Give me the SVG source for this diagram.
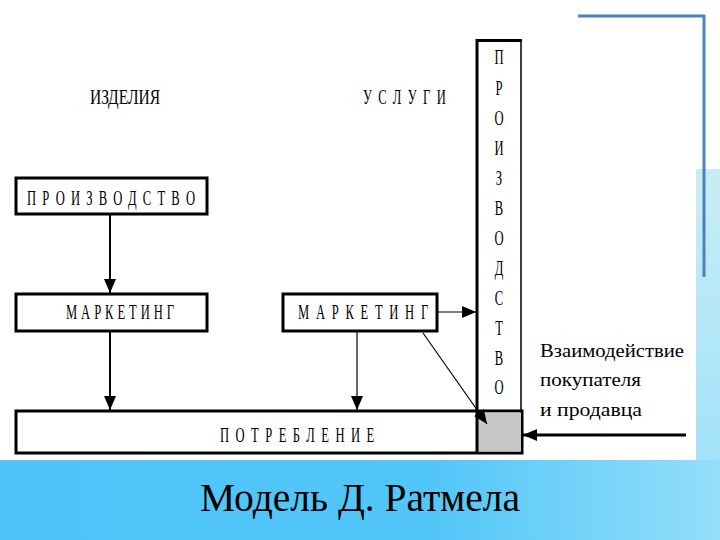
<svg xmlns="http://www.w3.org/2000/svg" width="720" height="540" viewBox="0 0 720 540">
<defs>
<linearGradient id="band" x1="0" y1="0" x2="1" y2="0">
<stop offset="0" stop-color="#4fc4f8"/>
<stop offset="0.6" stop-color="#52c6f8"/>
<stop offset="1" stop-color="#94def9"/>
</linearGradient>
<linearGradient id="strip" x1="0" y1="0" x2="0" y2="1">
<stop offset="0" stop-color="#c9edf5"/>
<stop offset="1" stop-color="#a2e2fa"/>
</linearGradient>
<marker id="ahb" viewBox="0 0 14 12" refX="14" refY="6" markerWidth="14" markerHeight="12" markerUnits="userSpaceOnUse" orient="auto">
<path d="M0,0 L14,6 L0,12 Z" fill="#000"/>
</marker>
</defs>
<style>
.box{fill:#fff;stroke:#000;stroke-width:3}
.t{font-family:"Liberation Serif","DejaVu Serif",serif;fill:#000}
.cap{font-size:21px}
.vl{font-size:21px;text-anchor:middle}
.side{font-size:18px}
.thick{stroke:#000;stroke-width:2;fill:none}
.thin{stroke:#000;stroke-width:1.2;fill:none}
</style>
<rect x="0" y="0" width="720" height="540" fill="#fff"/>
<rect x="696" y="169" width="24" height="292" fill="url(#strip)"/>
<rect x="0" y="460" width="720" height="80" fill="url(#band)"/>
<g id="frame-line">
<path d="M578,16 L704,16 L704,277" fill="none" stroke="#4f81bd" stroke-width="3"/>
</g>

<g id="izdelia"><text class="t" font-size="20" x="90" y="104" textLength="70" lengthAdjust="spacingAndGlyphs">ИЗДЕЛИЯ</text></g>
<g id="uslugi"><text class="t cap" transform="translate(363,104) scale(0.6,1)" textLength="138" lengthAdjust="spacing">УСЛУГИ</text></g>

<g id="proizvodstvo-h">
<rect class="box" x="16" y="178" width="191" height="36"/>
<text class="t cap" transform="translate(27,205) scale(0.6,1)" textLength="280" lengthAdjust="spacing">ПРОИЗВОДСТВО</text>
</g>
<g id="marketing-left">
<rect class="box" x="16" y="294" width="191" height="37"/>
<text class="t cap" transform="translate(66,319) scale(0.6,1)" textLength="180" lengthAdjust="spacing">МАРКЕТИНГ</text>
</g>
<g id="marketing-right">
<rect class="box" x="283" y="294" width="154" height="37"/>
<text class="t cap" transform="translate(298,319) scale(0.6,1)" textLength="217" lengthAdjust="spacing">МАРКЕТИНГ</text>
</g>
<g id="proizvodstvo-v">
<rect x="477" y="41" width="44" height="370" fill="#fff" stroke="none"/>
<path d="M521,41 L521,411" stroke="#000" stroke-width="1.5" fill="none"/>
<path d="M477,411 L477,40.5 L522,40.5" stroke="#000" stroke-width="3" fill="none"/>
<text class="t vl" transform="translate(499,64) scale(0.6,1)">П</text>
<text class="t vl" transform="translate(499,95) scale(0.6,1)">Р</text>
<text class="t vl" transform="translate(499,125) scale(0.6,1)">О</text>
<text class="t vl" transform="translate(499,155) scale(0.6,1)">И</text>
<text class="t vl" transform="translate(499,185) scale(0.6,1)">З</text>
<text class="t vl" transform="translate(499,215) scale(0.6,1)">В</text>
<text class="t vl" transform="translate(499,245) scale(0.6,1)">О</text>
<text class="t vl" transform="translate(499,275) scale(0.6,1)">Д</text>
<text class="t vl" transform="translate(499,305) scale(0.6,1)">С</text>
<text class="t vl" transform="translate(499,335) scale(0.6,1)">Т</text>
<text class="t vl" transform="translate(499,365) scale(0.6,1)">В</text>
<text class="t vl" transform="translate(499,394) scale(0.6,1)">О</text>
</g>
<g id="potreblenie">
<rect class="box" x="16" y="411" width="506" height="42"/>
<rect x="478" y="412.5" width="43" height="39" fill="#c8c8c8"/>
<path d="M477,411 L477,453" stroke="#000" stroke-width="3"/>
<text class="t cap" transform="translate(220,442) scale(0.6,1)" textLength="257" lengthAdjust="spacing">ПОТРЕБЛЕНИЕ</text>
</g>
<g id="interaction">
<text class="t side" x="540" y="357" textLength="144" lengthAdjust="spacingAndGlyphs">Взаимодействие</text>
<text class="t side" x="540" y="386" textLength="101" lengthAdjust="spacingAndGlyphs">покупателя</text>
<text class="t side" x="540" y="416" textLength="102" lengthAdjust="spacingAndGlyphs">и  продавца</text>
</g>

<g id="connectors">
<line class="thick" x1="110" y1="214" x2="110" y2="293" marker-end="url(#ahb)"/>
<line class="thick" x1="110" y1="331" x2="110" y2="410" marker-end="url(#ahb)"/>
<line class="thin" x1="357" y1="331" x2="357" y2="410" marker-end="url(#ahb)"/>
<line class="thin" x1="437" y1="312" x2="476" y2="312" marker-end="url(#ahb)"/>
<line class="thin" x1="423" y1="333" x2="487" y2="424" marker-end="url(#ahb)"/>
<line x1="686" y1="435" x2="523" y2="435" stroke="#000" stroke-width="3" marker-end="url(#ahb)"/>
</g>

<g id="caption">
<text class="t" x="200" y="511" font-size="40" textLength="320" lengthAdjust="spacingAndGlyphs">Модель Д. Ратмела</text>
</g>
</svg>
